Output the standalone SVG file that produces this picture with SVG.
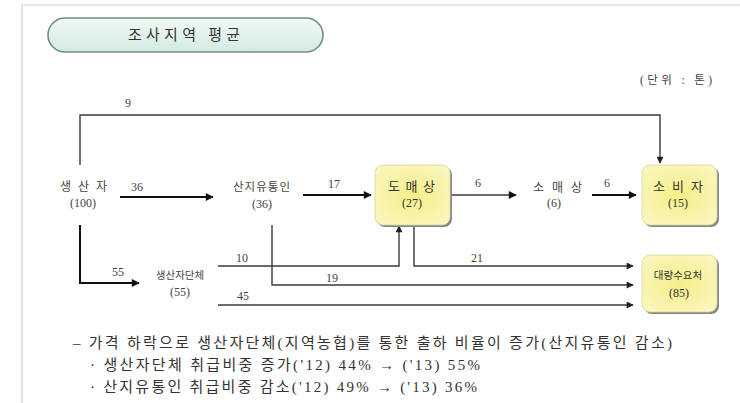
<svg xmlns="http://www.w3.org/2000/svg" width="740" height="403" viewBox="0 0 740 403">
<defs>
<linearGradient id="pill" x1="0" y1="0" x2="0" y2="1">
<stop offset="0" stop-color="#f2faf6"/>
<stop offset="1" stop-color="#d3eadf"/>
</linearGradient>
<radialGradient id="ybox" cx="0.5" cy="0.5" r="0.7">
<stop offset="0" stop-color="#f5ef88"/>
<stop offset="1" stop-color="#faf6c4"/>
</radialGradient>
<marker id="ah" viewBox="0 0 10 10" refX="9" refY="5" markerWidth="9" markerHeight="7" markerUnits="userSpaceOnUse" orient="auto">
<path d="M0,0 L10,5 L0,10 z" fill="#222"/>
</marker>
<marker id="ahb" viewBox="0 0 10 10" refX="9" refY="5" markerWidth="10" markerHeight="8" markerUnits="userSpaceOnUse" orient="auto">
<path d="M0,0 L10,5 L0,10 z" fill="#111"/>
</marker>
</defs>
<style>
text{font-family:"Liberation Serif","Noto Sans CJK KR",serif;fill:#444}
.lbl{font-size:12px;text-anchor:middle}
.nd{font-size:12px;text-anchor:middle}
.sm{font-size:10.5px;text-anchor:middle}
.bx{font-size:13px;text-anchor:middle;fill:#333}
.ln{fill:none;stroke:#3a3a3a;stroke-width:1.4}
.lnb{fill:none;stroke:#111;stroke-width:2}
.note{font-size:15px;fill:#333}
.shadow{fill:#858585}
.yb{fill:url(#ybox);stroke:#d8d59a;stroke-width:0.8}
</style>
<rect x="0" y="0" width="740" height="403" fill="#ffffff"/>
<path d="M22,403 V5 H740" fill="none" stroke="#cfcfcf" stroke-width="1.2"/>

<g id="title">
<rect x="48" y="18" width="275" height="34" rx="17" fill="url(#pill)" stroke="#6f8f80" stroke-width="1.6"/>
<text x="128" y="40" style="font-size:15px;fill:#333" textLength="112" lengthAdjust="spacing">조사지역 평균</text>
</g>
<text x="640" y="84" style="font-size:11.5px" textLength="72" lengthAdjust="spacing">(단위 : 톤)</text>

<g id="connectors">
<polyline class="ln" points="80,165 80,115 660,115 660,163" marker-end="url(#ah)"/>
<line class="lnb" x1="120" y1="197" x2="213" y2="197" marker-end="url(#ahb)"/>
<line class="lnb" x1="303" y1="195" x2="371" y2="195" marker-end="url(#ahb)"/>
<line class="ln" x1="451" y1="195" x2="516" y2="195" marker-end="url(#ahb)"/>
<line class="lnb" x1="592" y1="195" x2="636" y2="195" marker-end="url(#ahb)"/>
<polyline class="lnb" points="80,225 80,283 139,283" marker-end="url(#ahb)"/>
<polyline class="ln" points="218,266 399,266 399,226" marker-end="url(#ah)"/>
<polyline class="ln" points="414,226 414,266 633,266" marker-end="url(#ah)"/>
<polyline class="ln" points="272,225 272,285 633,285" marker-end="url(#ah)"/>
<line class="ln" x1="218" y1="305" x2="633" y2="305" marker-end="url(#ah)"/>
<text x="128" y="107" class="lbl">9</text>
<text x="137" y="191" class="lbl">36</text>
<text x="334" y="188" class="lbl">17</text>
<text x="478" y="187" class="lbl">6</text>
<text x="607" y="187" class="lbl">6</text>
<text x="118" y="276" class="lbl">55</text>
<text x="242" y="262" class="lbl">10</text>
<text x="477" y="262" class="lbl">21</text>
<text x="332" y="282" class="lbl">19</text>
<text x="243" y="300" class="lbl">45</text>
</g>

<g id="producer">
<text x="60" y="191" style="font-size:12px" textLength="47" lengthAdjust="spacing">생 산 자</text>
<text x="83" y="207" class="nd">(100)</text>
</g>
<g id="local-trader">
<text x="233" y="191" style="font-size:11.5px" textLength="57" lengthAdjust="spacing">산지유통인</text>
<text x="262" y="208" class="nd">(36)</text>
</g>
<g id="wholesaler">
<rect class="shadow" x="377" y="167" width="75" height="60" rx="8"/>
<rect class="yb" x="375" y="165" width="75" height="60" rx="8"/>
<text x="388" y="191" class="bx" style="text-anchor:start" textLength="47" lengthAdjust="spacing">도 매 상</text>
<text x="412" y="207" class="bx" style="font-size:12px">(27)</text>
</g>
<g id="retailer">
<text x="533" y="192" style="font-size:12px" textLength="49" lengthAdjust="spacing">소 매 상</text>
<text x="554" y="207" class="nd">(6)</text>
</g>
<g id="consumer">
<rect class="shadow" x="644" y="167" width="75" height="60" rx="8"/>
<rect class="yb" x="642" y="165" width="75" height="60" rx="8"/>
<text x="653" y="191" class="bx" style="text-anchor:start" textLength="50" lengthAdjust="spacing">소 비 자</text>
<text x="678" y="207" class="bx" style="font-size:12px">(15)</text>
</g>
<g id="producer-group">
<text x="180" y="279" class="sm">생산자단체</text>
<text x="180" y="296" class="nd">(55)</text>
</g>
<g id="bulk-buyer">
<rect class="shadow" x="644" y="257" width="75" height="57" rx="8"/>
<rect class="yb" x="642" y="255" width="75" height="57" rx="8"/>
<text x="678" y="279" class="sm" style="fill:#333">대량수요처</text>
<text x="679" y="297" class="bx" style="font-size:12px">(85)</text>
</g>

<g id="notes">
<text x="73" y="348" class="note" textLength="599" lengthAdjust="spacing">– 가격 하락으로 생산자단체(지역농협)를 통한 출하 비율이 증가(산지유통인 감소)</text>
<text x="90" y="370" class="note" textLength="390" lengthAdjust="spacing">· 생산자단체 취급비중 증가('12) 44% → ('13) 55%</text>
<text x="90" y="392" class="note" textLength="387" lengthAdjust="spacing">· 산지유통인 취급비중 감소('12) 49% → ('13) 36%</text>
</g>
</svg>
